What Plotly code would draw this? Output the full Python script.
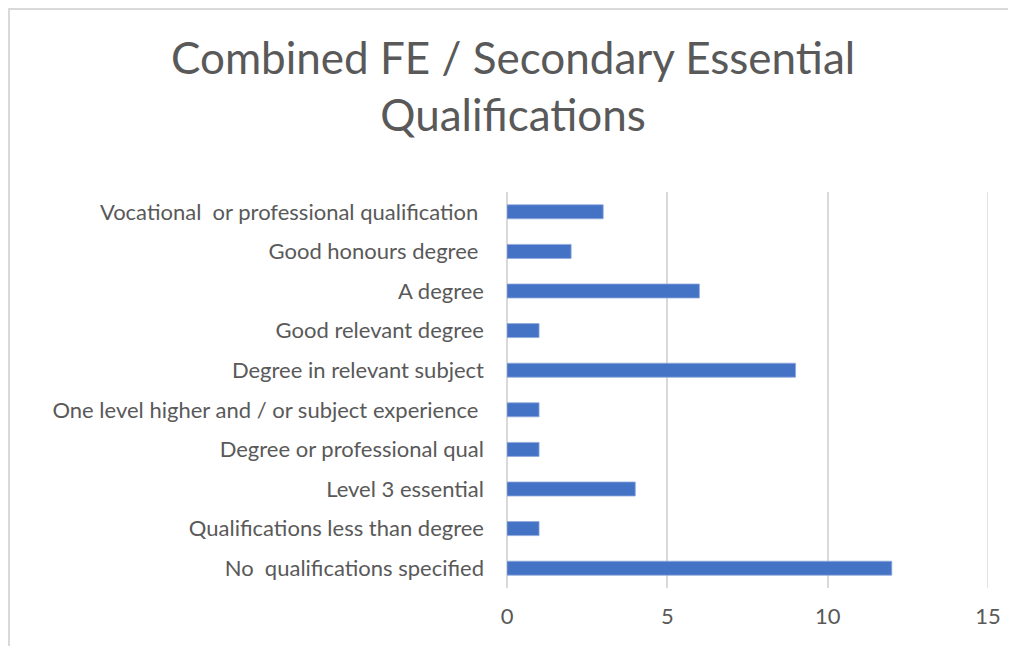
import plotly.graph_objects as go

categories = [
    "Vocational  or professional qualification ",
    "Good honours degree ",
    "A degree",
    "Good relevant degree",
    "Degree in relevant subject",
    "One level higher and / or subject experience ",
    "Degree or professional qual",
    "Level 3 essential",
    "Qualifications less than degree",
    "No  qualifications specified",
]
values = [3, 2, 6, 1, 9, 1, 1, 4, 1, 12]
x_ticks = [0, 5, 10, 15]

tick_text = [c.replace("  ", " \u00a0").rstrip(" ") + ("\u00a0" if c.endswith(" ") else "") for c in categories]

FONT = "Lato"
GREY = "#595959"
GRID = "#d9d9d9"
OFF = 8  # page body margin
W, H = 1016 - OFF, 646 - OFF

# target positions in page pixels
px0, px1 = 507, 988
py0, py1 = 588, 192

fig = go.Figure(go.Bar(
    x=values, y=categories, orientation="h",
    marker=dict(color="#4472C4", line=dict(color="#8faadc", width=0.8)),
))

fig.update_layout(
    width=W, height=H,
    paper_bgcolor="white", plot_bgcolor="white",
    margin=dict(l=px0 - OFF, r=W - (px1 - OFF), t=py1 - OFF, b=H - (py0 - OFF)),
    bargap=0.646,
    showlegend=False,
    font=dict(family=FONT, color=GREY),
)
fig.update_xaxes(
    range=[0, 15], tickvals=x_ticks, ticktext=[str(v) for v in x_ticks],
    showgrid=True, gridcolor=GRID, gridwidth=1.5,
    zeroline=True, zerolinecolor=GRID, zerolinewidth=1.5,
    showline=False, ticks="", ticklabelstandoff=13,
    tickfont=dict(family=FONT, size=22, color=GREY),
)
fig.update_yaxes(
    categoryorder="array", categoryarray=categories,
    tickvals=categories, ticktext=tick_text,
    autorange="reversed", showgrid=False, zeroline=False, showline=False,
    ticks="", ticklabelstandoff=22,
    tickfont=dict(family=FONT, size=22, color=GREY),
)

def xp(px):
    return (px - px0) / (px1 - px0)
def yp(py):
    return (py0 - py) / (py0 - py1)

# gridline at the right end of the axis range (plotly omits the edge one)
fig.add_shape(type="line", xref="x", yref="paper", x0=x_ticks[-1], x1=x_ticks[-1], y0=0, y1=1,
              line=dict(color=GRID, width=1.5), layer="below")

fig.add_annotation(
    text="Combined FE / Secondary Essential<br>Qualifications",
    xref="paper", yref="paper", x=xp(513), y=yp(85),
    xanchor="center", yanchor="middle", showarrow=False, align="center",
    font=dict(family=FONT, size=44, color=GREY),
)

# chart-area frame: only the top and left edges fall inside the picture
fig.add_shape(type="line", xref="paper", yref="paper",
              x0=xp(8), x1=xp(1030), y0=yp(9), y1=yp(9),
              line=dict(color=GRID, width=2), layer="below")
fig.add_shape(type="line", xref="paper", yref="paper",
              x0=xp(9), x1=xp(9), y0=yp(8), y1=yp(680),
              line=dict(color=GRID, width=2), layer="below")

fig.write_html("out.html")
